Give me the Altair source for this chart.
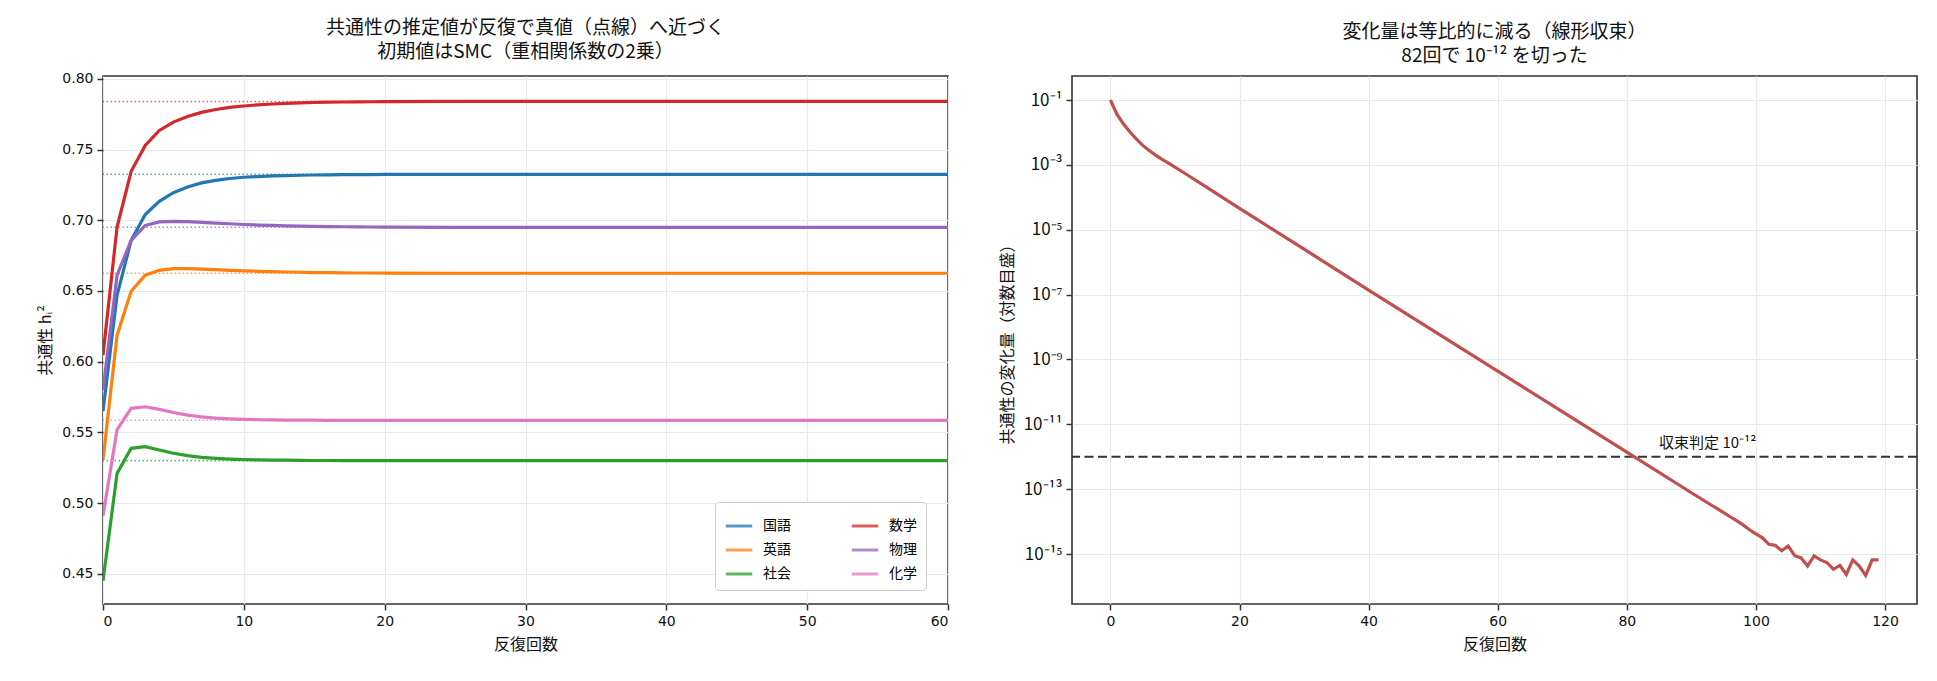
import altair as alt
import pandas as pd

# ---- left panel: communality estimates per iteration ----
subjects = ["国語", "英語", "社会", "数学", "物理", "化学"]
colors = ["#1f77b4", "#ff7f0e", "#2ca02c", "#d62728", "#9467bd", "#e377c2"]
true_values = [0.7325, 0.6625, 0.5300, 0.7840, 0.6950, 0.5585]

iters = list(range(0, 21)) + [25, 30, 40, 60]

h_kokugo = [0.565, 0.647, 0.6858, 0.7040, 0.7134, 0.7195, 0.7235, 0.7264, 0.7282, 0.7295,
            0.7304, 0.7309, 0.7313, 0.7316, 0.7318, 0.7320, 0.7321, 0.7322, 0.7323, 0.7323,
            0.7324, 0.7325, 0.7325, 0.7325, 0.7325]
h_eigo = [0.5305, 0.6187, 0.6498, 0.6611, 0.6646, 0.6658, 0.6658, 0.6654, 0.6650, 0.6646,
          0.6642, 0.6639, 0.6636, 0.6634, 0.6632, 0.6630, 0.6629, 0.6628, 0.6627, 0.6627,
          0.6626, 0.6625, 0.6625, 0.6625, 0.6625]
h_shakai = [0.445, 0.521, 0.5387, 0.5399, 0.5375, 0.5352, 0.5335, 0.5323, 0.5316, 0.5311,
            0.5307, 0.5305, 0.5304, 0.5303, 0.5302, 0.5301, 0.5301, 0.5300, 0.5300, 0.5300,
            0.5300, 0.5300, 0.5300, 0.5300, 0.5300]
h_sugaku = [0.6046, 0.6952, 0.7346, 0.7529, 0.7635, 0.7694, 0.7734, 0.7763, 0.7783, 0.7798,
            0.7808, 0.7816, 0.7822, 0.7827, 0.7830, 0.7833, 0.7835, 0.7836, 0.7837, 0.7838,
            0.7839, 0.7840, 0.7840, 0.7840, 0.7840]
h_butsuri = [0.580, 0.6611, 0.6858, 0.6964, 0.6988, 0.6992, 0.6990, 0.6985, 0.6980, 0.6975,
             0.6970, 0.6966, 0.6963, 0.6960, 0.6958, 0.6956, 0.6955, 0.6954, 0.6953, 0.6952,
             0.6951, 0.6950, 0.6950, 0.6950, 0.6950]
h_kagaku = [0.491, 0.552, 0.5670, 0.5681, 0.5662, 0.5640, 0.5622, 0.5609, 0.5600, 0.5595,
            0.5591, 0.5589, 0.5588, 0.5587, 0.5586, 0.5586, 0.5585, 0.5585, 0.5585, 0.5585,
            0.5585, 0.5585, 0.5585, 0.5585, 0.5585]

# ---- right panel: max change per iteration (log10) ----
delta_iters = [0, 1, 2, 3, 4, 5, 6, 7, 8, 9, 10, 12, 15, 20, 30, 40, 50, 60, 70, 80, 90,
               93, 94, 95, 96, 97, 98, 99, 100, 101, 102, 103, 104, 105, 106, 107, 108, 109,
               110, 111, 112, 113, 114, 115, 116, 117, 118, 119]
delta_log10 = [-1.0, -1.44, -1.73, -1.98, -2.2, -2.4, -2.56, -2.7, -2.83, -2.95, -3.07, -3.32,
               -3.7, -4.34, -5.6, -6.86, -8.11, -9.36, -10.61, -11.86, -13.11,
               -13.48, -13.6, -13.72, -13.85, -13.97, -14.1, -14.25, -14.38, -14.5, -14.7,
               -14.73, -14.9, -14.75, -15.05, -15.12, -15.37, -15.06, -15.18, -15.26, -15.47,
               -15.35, -15.63, -15.18, -15.37, -15.66, -15.18, -15.18]
y_tick_exponents = [-1, -3, -5, -7, -9, -11, -13, -15]
threshold = 1e-12

series = [h_kokugo, h_eigo, h_shakai, h_sugaku, h_butsuri, h_kagaku]
rows = []
for name, vals in zip(subjects, series):
    for it, v in zip(iters, vals):
        rows.append({"iter": it, "h": v, "subject": name})
hist_df = pd.DataFrame(rows)
truth_df = pd.DataFrame({"subject": subjects, "h": true_values, "color": colors})

delta_df = pd.DataFrame({"iter": delta_iters, "delta": [10 ** e for e in delta_log10]})

SUP = str.maketrans("0123456789-", "⁰¹²³⁴⁵⁶⁷⁸⁹⁻")
def sup10(e):
    return "10" + str(e).translate(SUP)

# nested condition: pick the superscript label of the nearest decade
label_expr = f"'{sup10(y_tick_exponents[-1])}'"
for e in reversed(y_tick_exponents[:-1]):
    label_expr = f"datum.value > {10 ** (e - 0.5)} ? '{sup10(e)}' : " + label_expr

CJK = "Noto Sans CJK JP"
W, H = 845, 528

# ---- left chart ----
base_x = alt.X("iter:Q", scale=alt.Scale(domain=[0, 60], nice=False),
               axis=alt.Axis(values=[0, 10, 20, 30, 40, 50, 60], title="反復回数"))
base_y = alt.Y("h:Q", scale=alt.Scale(domain=[0.4286, 0.802], nice=False, zero=False),
               axis=alt.Axis(values=[0.45, 0.50, 0.55, 0.60, 0.65, 0.70, 0.75, 0.80],
                             format=".2f", title="共通性 hᵢ²"))

truth = alt.Chart(truth_df).mark_rule(strokeDash=[1.5, 2.5], strokeWidth=1.6, opacity=0.75).encode(
    y=alt.Y("h:Q"),
    color=alt.Color("color:N", scale=None),
)

lines = alt.Chart(hist_df).mark_line(strokeWidth=3.2, clip=True).encode(
    x=base_x,
    y=base_y,
    color=alt.Color("subject:N", scale=alt.Scale(domain=subjects, range=colors),
                    legend=alt.Legend(title=None, orient="none", legendX=612, legendY=426,
                                      columns=2, symbolType="stroke", symbolStrokeWidth=3,
                                      symbolSize=700, labelFont=CJK, labelFontSize=14,
                                      labelOffset=9, columnPadding=54, rowPadding=2,
                                      padding=9, fillColor="white", strokeColor="#cccccc",
                                      cornerRadius=4)),
    detail="subject:N",
)

left = alt.layer(truth, lines).properties(
    width=W, height=H,
    title=alt.TitleParams(["共通性の推定値が反復で真値（点線）へ近づく", "初期値はSMC（重相関係数の2乗）"]),
)

# ---- right chart ----
rx = alt.X("iter:Q", scale=alt.Scale(domain=[-5.95, 124.95], nice=False),
           axis=alt.Axis(values=[0, 20, 40, 60, 80, 100, 120], title="反復回数"))
ry = alt.Y("delta:Q", scale=alt.Scale(type="log", domain=[10 ** -16.54, 10 ** -0.26], nice=False),
           axis=alt.Axis(values=[10 ** e for e in y_tick_exponents], labelExpr=label_expr,
                         labelFont=CJK, labelFontSize=17, title="共通性の変化量（対数目盛）"))

delta_line = alt.Chart(delta_df).mark_line(strokeWidth=3.2, color="#c0504d").encode(x=rx, y=ry)

thr_df = pd.DataFrame({"delta": [threshold], "iter": [85], "label": ["収束判定 " + sup10(-12)]})
thr_rule = alt.Chart(thr_df).mark_rule(color="#333333", strokeDash=[9, 4.5], strokeWidth=2).encode(
    y=alt.Y("delta:Q"))
thr_text = alt.Chart(thr_df).mark_text(align="left", baseline="bottom", dy=-6, font=CJK,
                                        fontSize=15, color="#111111").encode(
    x="iter:Q", y="delta:Q", text="label:N")

right = alt.layer(thr_rule, delta_line, thr_text).properties(
    width=W, height=H,
    title=alt.TitleParams(["変化量は等比的に減る（線形収束）", "82回で " + sup10(-12) + " を切った"]),
)

chart = alt.hconcat(left, right, spacing=48).properties(
    padding={"left": 29, "top": 10, "right": 0, "bottom": 5}
).configure_view(
    stroke="#333333", strokeWidth=1.6
).configure_axis(
    domain=False, grid=True, gridColor="#e8e8e8", gridWidth=1.2,
    tickColor="#333333", tickSize=6, tickWidth=1.5,
    labelFont="DejaVu Sans", labelFontSize=14, labelColor="#111111", labelPadding=4,
    titleFont=CJK, titleFontSize=16, titleFontWeight="normal", titleColor="#111111",
    titlePadding=8,
).configure_title(
    font=CJK, fontSize=19, fontWeight="normal", lineHeight=24, color="#111111", offset=10,
    anchor="middle",
)

chart.save("out.html", embed_options={"renderer": "svg", "actions": False})
